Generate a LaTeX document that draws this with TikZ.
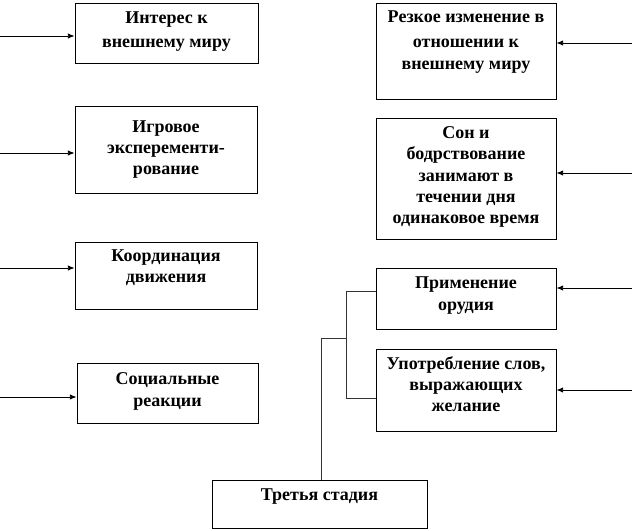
\documentclass[tikz,border=0pt]{standalone}
\usepackage{fontspec}
\setmainfont{Liberation Serif}
\usetikzlibrary{arrows.meta,fit}
\tikzset{
  box/.style={draw=black, line width=0.7pt, inner sep=0pt},
  txt/.style={font=\bfseries\fontsize{13.5}{16}\selectfont, align=center, inner sep=0pt, anchor=north},
  arr/.style={line width=0.6pt, -{Latex[length=5pt,width=4pt]}},
  con/.style={line width=0.5pt, black!80}
}
\begin{document}
\begin{tikzpicture}[x=0.75pt,y=-0.75pt]
\useasboundingbox (0,0) rectangle (632,531);
% left column
\node[box, fit={(75,3) (258,63)}] (b1) {};
\node[txt] (t1) at ([yshift=-6.5pt]b1.north) {Интерес к\\[2pt]внешнему миру};
\node[box, fit={(75,106) (257,193)}] (b2) {};
\node[txt] (t2) at ([yshift=-11pt]b2.north) {Игровое\\эксперементи-\\рование};
\node[box, fit={(75,242) (257,309)}] (b3) {};
\node[txt] (t3) at ([yshift=-6pt]b3.north) {Координация\\движения};
\node[box, fit={(77,363) (258,423)}] (b4) {};
\node[txt] (t4) at ([yshift=-7pt]b4.north) {Социальные\\[1pt]реакции};
% right column
\node[box, fit={(376,3) (556,99)}] (bA) {};
\node[txt] (tA) at ([yshift=-6pt]bA.north) {Резкое изменение в\\[3pt]отношении к\\внешнему миру};
\node[box, fit={(376,118) (556,239)}] (bB) {};
\node[txt] (tB) at ([yshift=-6.5pt]bB.north) {Сон и\\бодрствование\\занимают в\\течении дня\\одинаковое время};
\node[box, fit={(376,268) (556,329)}] (bC) {};
\node[txt] (tC) at ([yshift=-7pt]bC.north) {Применение\\орудия};
\node[box, fit={(376,349) (556,431)}] (bD) {};
\node[txt] (tD) at ([yshift=-5.5pt]bD.north) {Употребление слов,\\выражающих\\желание};
\node[box, fit={(212,480) (427,528)}] (bT) {};
\node[txt] (tT) at ([yshift=-7pt]bT.north) {Третья стадия};
% free ends of arrows
\coordinate (l1) at (0,36);
\coordinate (l2) at (0,153);
\coordinate (l3) at (0,268);
\coordinate (l4) at (0,397);
\coordinate (rA) at (632,43);
\coordinate (rB) at (632,173);
\coordinate (rC) at (632,288);
\coordinate (rD) at (632,390);
\draw[arr] (l1) -- (l1 -| b1.west);
\draw[arr] (l2) -- (l2 -| b2.west);
\draw[arr] (l3) -- (l3 -| b3.west);
\draw[arr] (l4) -- (l4 -| b4.west);
\draw[arr] (rA) -- (rA -| bA.east);
\draw[arr] (rB) -- (rB -| bB.east);
\draw[arr] (rC) -- (rC -| bC.east);
\draw[arr] (rD) -- (rD -| bD.east);
% bracket connector
\coordinate (j1) at (346,291);
\coordinate (j2) at (346,398);
\coordinate (j3) at (346,338);
\coordinate (j4) at (321,338);
\draw[con] (bC.west |- j1) -- (j1) -- (j2) -- (bD.west |- j2);
\draw[con] (j3) -- (j4) -- (j4 |- bT.north);
\end{tikzpicture}
\end{document}
